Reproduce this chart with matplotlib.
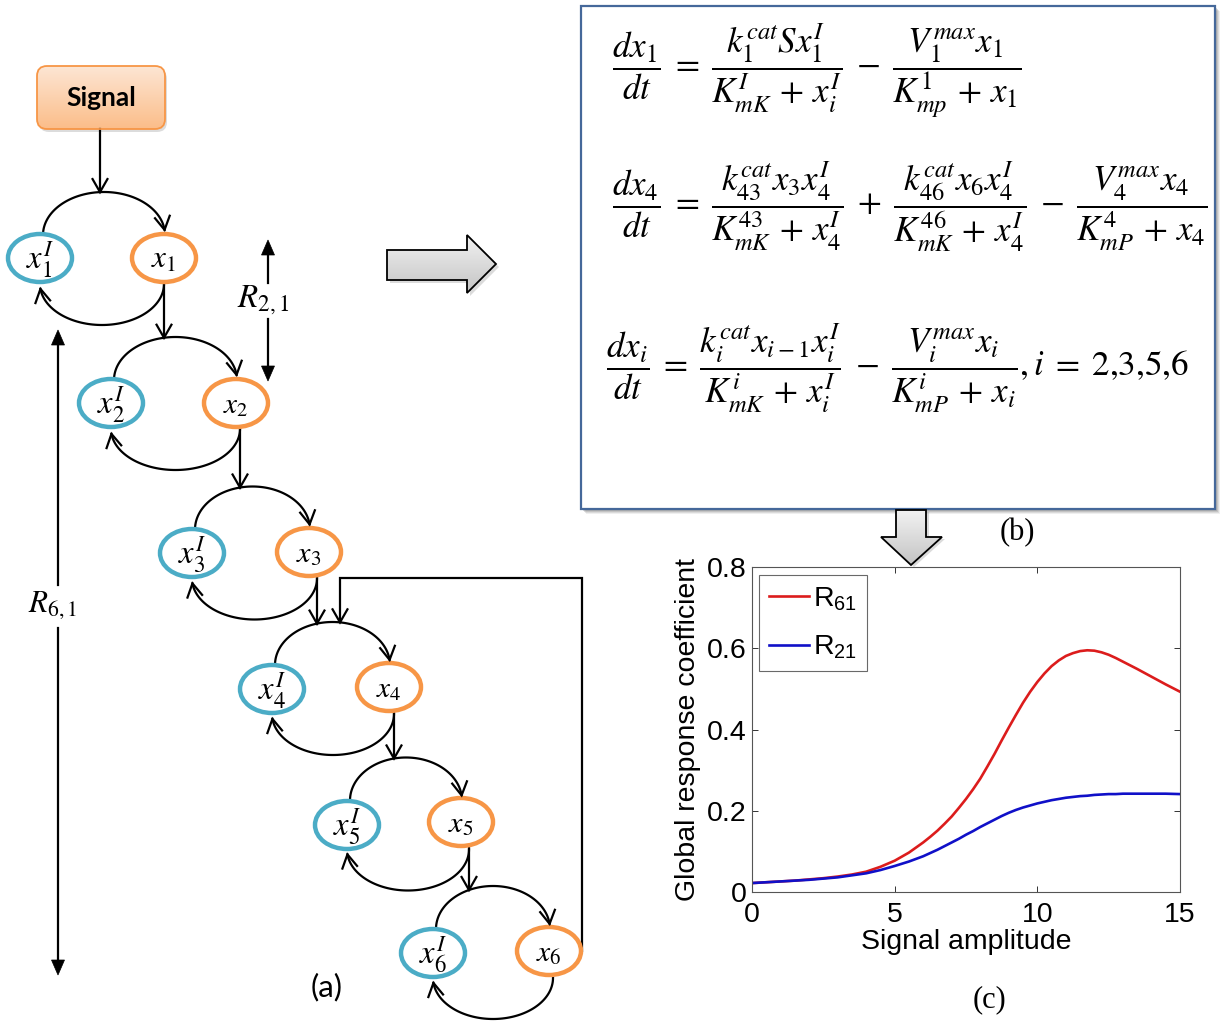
import numpy as np
import matplotlib
matplotlib.use("Agg")
import matplotlib.pyplot as plt
from matplotlib.patches import Ellipse, Polygon, Rectangle, FancyBboxPatch
from matplotlib.colors import LinearSegmentedColormap

# ---------------- data (panel c) ----------------
signal_amplitude = [0, 0.5, 1, 1.5, 2, 2.5, 3, 3.5, 4, 4.5, 5, 5.5,
                    6, 6.25, 6.5, 6.75, 7, 7.25, 7.5, 7.75, 8, 8.25, 8.5, 8.75,
                    9, 9.25, 9.5, 9.75, 10, 10.25, 10.5, 10.75, 11, 11.25, 11.5, 11.75,
                    12, 12.25, 12.5, 12.75, 13, 13.5, 14, 14.5, 15]
R61 = [0.022, 0.024, 0.026, 0.028, 0.031, 0.034, 0.038, 0.043, 0.050, 0.062, 0.077, 0.097,
       0.122, 0.136, 0.151, 0.168, 0.186, 0.207, 0.229, 0.253, 0.279, 0.309, 0.340, 0.373,
       0.405, 0.436, 0.466, 0.493, 0.517, 0.538, 0.556, 0.570, 0.581, 0.588, 0.593, 0.595,
       0.594, 0.590, 0.584, 0.576, 0.567, 0.549, 0.530, 0.511, 0.493]
R21 = [0.022, 0.024, 0.026, 0.028, 0.030, 0.033, 0.036, 0.041, 0.046, 0.054, 0.064, 0.075,
       0.088, 0.096, 0.104, 0.113, 0.122, 0.131, 0.141, 0.150, 0.160, 0.169, 0.178, 0.187,
       0.195, 0.202, 0.208, 0.213, 0.218, 0.222, 0.226, 0.229, 0.232, 0.234, 0.236, 0.237,
       0.239, 0.240, 0.241, 0.241, 0.242, 0.242, 0.242, 0.242, 0.241]
x_ticks = [0, 5, 10, 15]
x_tick_labels = ["0", "5", "10", "15"]
y_ticks = [0, 0.2, 0.4, 0.6, 0.8]
y_tick_labels = ["0", "0.2", "0.4", "0.6", "0.8"]
series_labels = ["R$_{61}$", "R$_{21}$"]
x_label = "Signal amplitude"
y_label = "Global response coefficient"

# ---------------- diagram labels ----------------
blue_labels = [r"$x_1^I$", r"$x_2^I$", r"$x_3^I$", r"$x_4^I$", r"$x_5^I$", r"$x_6^I$"]
orange_labels = [r"$x_1$", r"$x_2$", r"$x_3$", r"$x_4$", r"$x_5$", r"$x_6$"]
eq1 = (r"$\dfrac{dx_1}{dt}\;=\;\dfrac{k_1^{cat}Sx_1^I}{K_{mK}^I\,+\,x_i^I}"
       r"\;-\;\dfrac{V_1^{max}x_1}{K_{mp}^1\,+\,x_1}$")
eq2 = (r"$\dfrac{dx_4}{dt}\;=\;\dfrac{k_{43}^{cat}x_3x_4^I}{K_{mK}^{43}\,+\,x_4^I}"
       r"\;+\;\dfrac{k_{46}^{cat}x_6x_4^I}{K_{mK}^{46}\,+\,x_4^I}"
       r"\;-\;\dfrac{V_4^{max}x_4}{K_{mP}^4\,+\,x_4}$")
eq3 = (r"$\dfrac{dx_i}{dt}\;=\;\dfrac{k_i^{cat}x_{i-1}x_i^I}{K_{mK}^i\,+\,x_i^I}"
       r"\;-\;\dfrac{V_i^{max}x_i}{K_{mP}^i\,+\,x_i},i\;=\;2{,}3{,}5{,}6$")

plt.rcParams["font.family"] = ["Liberation Sans", "DejaVu Sans"]
plt.rcParams["mathtext.fontset"] = "custom"
plt.rcParams["mathtext.rm"] = "Liberation Sans"
plt.rcParams["mathtext.it"] = "Liberation Sans:italic"
plt.rcParams["mathtext.bf"] = "Liberation Sans:bold"

fig = plt.figure(figsize=(12.2, 10.24), dpi=100)
ax0 = fig.add_axes([0, 0, 1, 1])
ax0.axis("off")
renderer = fig.canvas.get_renderer()

LW = 1.6
BLUE = "#4bacc6"
ORANGE = "#f79646"


def fit(t, target_w):
    fs = t.get_fontsize()
    w = t.get_window_extent(renderer=renderer).width
    t.set_fontsize(fs * target_w / w)
    return t


def vhead(tip, direction, L=14, W=8, lw=LW):
    d = np.asarray(direction, float)
    d = d / np.linalg.norm(d)
    p = np.array([-d[1], d[0]])
    tip = np.asarray(tip, float)
    back = tip - L * d
    pts = np.array([back + W * p, tip, back - W * p])
    ax0.plot(pts[:, 0], pts[:, 1], color="k", lw=lw, solid_joinstyle="miter",
             solid_capstyle="butt", zorder=5)


def fhead(tip, direction, L=15, W=6.5):
    d = np.asarray(direction, float)
    d = d / np.linalg.norm(d)
    p = np.array([-d[1], d[0]])
    tip = np.asarray(tip, float)
    back = tip - L * d
    ax0.add_patch(Polygon([back + W * p, tip, back - W * p], closed=True,
                          fc="k", ec="k", lw=0.5, zorder=5))


def gradient_fill(patch, c1, c2, zorder):
    ax0.add_patch(patch)
    if isinstance(patch, Polygon):
        verts = np.asarray(patch.get_xy())
    else:
        verts = patch.get_path().transformed(patch.get_patch_transform()).vertices
    x0, y0 = verts.min(axis=0)
    x1, y1 = verts.max(axis=0)
    cmap = LinearSegmentedColormap.from_list("g", [c1, c2])
    grad = np.linspace(0, 1, 256).reshape(-1, 1)
    im = ax0.imshow(grad, extent=(x0, x1, y1, y0), origin="upper", cmap=cmap,
                    aspect="auto", zorder=zorder, interpolation="bilinear")
    im.set_clip_path(patch)


# ---------------- module geometry ----------------
blue_c = [(40, 258), (111, 403), (192, 553), (272, 689), (347, 825), (433, 953)]
orange_c = [(164, 258), (236, 403), (309, 552), (389, 687), (461, 822), (549, 951)]
link_x = [164, 240, 317, 394, 469, 553]
EW, EH = 64, 48
B_UP, B_LO = 43, 41

upper = []
for i in range(6):
    bx, by = blue_c[i]
    ox, oy = orange_c[i]
    xs, xe = bx + 3, ox + 1
    cx, cy, a = (xs + xe) / 2, (by + oy) / 2 - 23, (xe - xs) / 2
    upper.append((cx, cy, a))
    th = np.linspace(np.pi, 0.12, 80)
    X = cx + a * np.cos(th)
    Y = cy - B_UP * np.sin(th)
    ax0.plot(X, Y, color="k", lw=LW, zorder=2)
    t = th[-1]
    vhead((X[-1], Y[-1]), (a * np.sin(t), B_UP * np.cos(t)))
    # lower arc
    lx = link_x[i]
    cx2, cy2, a2 = (bx + lx) / 2, (by + oy) / 2 + 26, (lx - bx) / 2
    th = np.linspace(0, -np.pi + 0.12, 80)
    X = cx2 + a2 * np.cos(th)
    Y = cy2 - B_LO * np.sin(th)
    ax0.plot(X, Y, color="k", lw=LW, zorder=2)
    t = th[-1]
    vhead((X[-1], Y[-1]), (a2 * np.sin(t), B_LO * np.cos(t)))
    # ellipses
    ax0.add_patch(Ellipse((bx, by), EW, EH, fc="white", ec=BLUE, lw=3.2, zorder=3))
    ax0.add_patch(Ellipse((ox, oy), EW, EH, fc="white", ec=ORANGE, lw=3.2, zorder=3))
    fit(ax0.text(bx, by + 2, blue_labels[i], ha="center", va="center", fontsize=17,
                 math_fontfamily="stix", zorder=4), 29)
    fit(ax0.text(ox, oy + 2, orange_labels[i], ha="center", va="center", fontsize=17,
                 math_fontfamily="stix", zorder=4), 26)


def arc_top_y(i, x):
    cx, cy, a = upper[i]
    u = np.clip((x - cx) / a, -1, 1)
    return cy - B_UP * np.sqrt(1 - u ** 2)


# links between modules
for i in range(5):
    x = link_x[i]
    y0 = orange_c[i][1] + 22
    y1 = arc_top_y(i + 1, x)
    ax0.plot([x, x], [y0, y1], color="k", lw=LW, zorder=2)
    vhead((x, y1), (0, 1))

# signal box
sig = FancyBboxPatch((37, 66), 128, 63, boxstyle="round,pad=0,rounding_size=10",
                     fc="none", ec=ORANGE, lw=1.3, zorder=3)
shadow = FancyBboxPatch((39, 69), 128, 63, boxstyle="round,pad=0,rounding_size=10",
                        fc="#bbbbbb", ec="none", alpha=0.5, zorder=1)
ax0.add_patch(shadow)
gradient_fill(sig, "#fde6d4", "#fbbd89", zorder=2)
fit(ax0.text(101, 98, "Signal", ha="center", va="center", fontsize=17,
             fontweight="bold", family="Lato", zorder=4), 70)
ys = arc_top_y(0, 100)
ax0.plot([100, 100], [129, ys], color="k", lw=LW, zorder=2)
vhead((100, ys), (0, 1))

# feedback from x6 to module 4
yf = arc_top_y(3, 340)
ax0.plot([582, 582, 340, 340], [951, 578, 578, yf], color="k", lw=LW, zorder=2,
         solid_joinstyle="miter")
vhead((340, yf), (0, 1))

# R arrows
ax0.plot([268, 268], [283, 250], color="k", lw=LW, zorder=2)
fhead((268, 240), (0, -1))
ax0.plot([268, 268], [319, 370], color="k", lw=LW, zorder=2)
fhead((268, 381), (0, 1))
fit(ax0.text(263, 300, r"$R_{2,1}$", ha="center", va="center", fontsize=17,
             math_fontfamily="stix"), 53)

ax0.plot([58, 58], [585, 340], color="k", lw=LW, zorder=2)
fhead((58, 330), (0, -1))
ax0.plot([58, 58], [628, 965], color="k", lw=LW, zorder=2)
fhead((58, 975), (0, 1))
fit(ax0.text(53, 605, r"$R_{6,1}$", ha="center", va="center", fontsize=17,
             math_fontfamily="stix"), 50)

fit(ax0.text(327, 987, "(a)", ha="center", va="center", fontsize=17, family="Lato"), 32)

# big right arrow
rarrow = [(387, 250), (467, 250), (467, 235), (496, 264), (467, 293), (467, 280), (387, 280)]
ax0.add_patch(Polygon([(x + 3, y + 3) for x, y in rarrow], fc="#999999", ec="none",
                      alpha=0.35, zorder=1))
gradient_fill(Polygon(rarrow, closed=True, fc="none", ec="k", lw=1.3, zorder=3),
              "#f2f2f2", "#c4c4c4", zorder=2)

# equation box with shadow
for k, al in [(5, 0.12), (4, 0.18), (3, 0.25), (2, 0.3)]:
    ax0.add_patch(Rectangle((581 + k, 6 + k), 634, 503, fc="#7f7f7f", ec="none",
                            alpha=al, zorder=1))
ax0.add_patch(Rectangle((581, 6), 634, 503, fc="white", ec="#45689a", lw=1.6, zorder=2))

# down arrow (b)->(c)
darrow = [(896, 510), (926, 510), (926, 537), (942, 537), (911, 565), (881, 537), (896, 537)]
ax0.add_patch(Polygon([(x + 3, y + 2) for x, y in darrow], fc="#999999", ec="none",
                      alpha=0.35, zorder=2.5))
gradient_fill(Polygon(darrow, closed=True, fc="none", ec="k", lw=1.3, zorder=3.5),
              "#f2f2f2", "#c4c4c4", zorder=3)

# equations
for txt, x, yc, wt in [(eq1, 612, 71, 410), (eq2, 612, 207, 595), (eq3, 606, 368, 581)]:
    fit(ax0.text(x, yc, txt, ha="left", va="center", fontsize=20,
                 math_fontfamily="stix", zorder=4), wt)

ax0.text(1017, 533, "(b)", ha="center", va="center", fontsize=22, family="Liberation Serif")
ax0.text(990, 1000, "(c)", ha="center", va="center", fontsize=22, family="Liberation Serif")

ax0.set_xlim(0, 1220)
ax0.set_ylim(1024, 0)

# ---------------- panel (c) ----------------
ax = fig.add_axes([752 / 1220, (1024 - 892) / 1024, 428 / 1220, 325 / 1024])
ax.plot(signal_amplitude, R61, color="#dc1c1c", lw=1.9, label=series_labels[0])
ax.plot(signal_amplitude, R21, color="#1010c8", lw=1.9, label=series_labels[1])
ax.set_xlim(0, 15)
ax.set_ylim(0, 0.8)
ax.set_xticks(x_ticks)
ax.set_xticklabels(x_tick_labels)
ax.set_yticks(y_ticks)
ax.set_yticklabels(y_tick_labels)
ax.tick_params(direction="in", top=True, right=True, length=4, width=0.7,
               labelsize=20.5, color="#333333")
ax.tick_params(axis="x", pad=7)
ax.tick_params(axis="y", pad=4)
for s in ax.spines.values():
    s.set_color("#555555")
    s.set_linewidth(0.8)
ax.set_xlabel(x_label, fontsize=20.5, labelpad=1)
ax.set_ylabel(y_label, fontsize=20.5, labelpad=4)
leg = ax.legend(loc="upper left", bbox_to_anchor=(0.0164, 0.975), borderaxespad=0,
                frameon=True, fancybox=False, edgecolor="#444444", fontsize=20.5,
                handlelength=1.4, handletextpad=0.15, borderpad=0.35, labelspacing=0.75)
leg.get_frame().set_linewidth(0.8)

fig.savefig("out.png", dpi=100)
